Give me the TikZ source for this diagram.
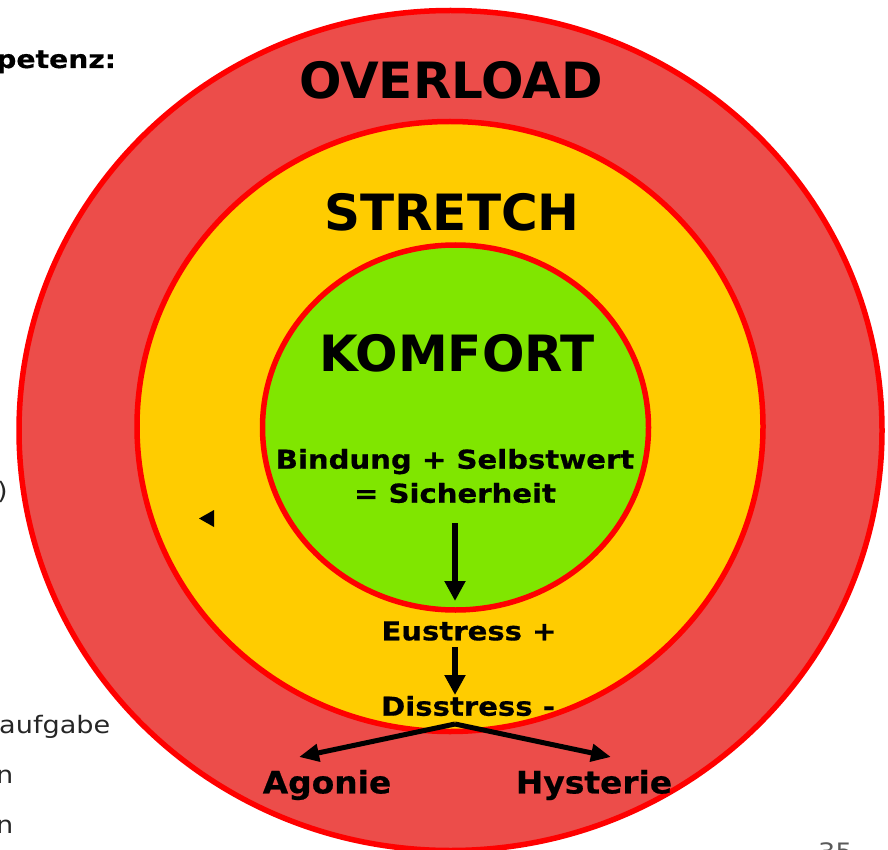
\documentclass[tikz,border=0pt]{standalone}
\usepackage{fontspec}
\setmainfont{DejaVu Sans}
\newfontfamily\widesans[FakeStretch=1.12,FakeBold=0.6]{DejaVu Sans}
\newfontfamily\outsans[FakeStretch=1.06,FakeBold=0.6]{DejaVu Sans}
\newfontfamily\sidesans[FakeStretch=1.13]{DejaVu Sans}
\newfontfamily\headsans[FakeStretch=1.13,FakeBold=0.5]{DejaVu Sans}
\usetikzlibrary{arrows.meta}

\definecolor{ringred}{RGB}{255,0,0}
\definecolor{overfill}{RGB}{236,77,74}
\definecolor{stretchfill}{RGB}{255,204,0}
\definecolor{comfortfill}{RGB}{128,230,0}
\definecolor{pagegray}{RGB}{90,90,90}

\tikzset{
  zone/.style={draw=ringred, line width=5.5pt},
  zonetitle/.style={font=\bfseries\fontsize{50}{60}\selectfont, inner sep=0pt},
  label/.style={font=\widesans\bfseries\fontsize{26}{34}\selectfont, inner sep=0pt, align=center},
  outcome/.style={font=\outsans\bfseries\fontsize{31}{36}\selectfont, inner sep=0pt},
  sidetext/.style={font=\sidesans\fontsize{24}{28}\selectfont, inner sep=0pt, text=black!85},
  flow/.style={line width=5.5pt, -{Triangle[width=20pt,length=20pt]}},
  branch/.style={line width=5pt, -{Triangle[width=17pt,length=20pt]}}
}

\begin{document}
\begin{tikzpicture}[x=1pt,y=-1pt]
\useasboundingbox (0,0) rectangle (888,850);
\clip (0,0) rectangle (888,850);

% concentric zones
\draw[zone, fill=overfill] (450.5,430.5) ellipse [x radius=431.5pt, y radius=420pt];
\draw[zone, fill=stretchfill] (450,426.5) ellipse [x radius=313pt, y radius=305pt];
\draw[zone, fill=comfortfill] (455.5,427.5) ellipse [x radius=193pt, y radius=182.5pt];

% zone titles
\node[zonetitle] (overload) at (451,80) {OVERLOAD};
\node[zonetitle] (stretch) at (452,212) {STRETCH};
\node[zonetitle] (komfort) at (457,353) {KOMFORT};

% inner statement and stress chain
\node[label] (security) at (455,476) {Bindung + Selbstwert\\= Sicherheit};
\node[label] (eustress) at (469,631) {Eustress +};
\node[label] (distress) at (468,706) {Disstress -};
\node[outcome] (agonie) at (327,785) {Agonie};
\node[outcome] (hysterie) at (594,785) {Hysterie};

\coordinate (secfoot) at (455,523);
\coordinate (sectip) at (455,601);
\coordinate (eufoot) at (455,647);
\coordinate (eutip) at (455,695);
\coordinate (fork) at (455,724);
\coordinate (agtip) at (299,757);
\coordinate (hytip) at (611,757);

\draw[flow] (secfoot) -- (sectip);
\draw[flow] (eufoot) -- (eutip);
\draw[branch] (fork) -- (agtip);
\draw[branch] (fork) -- (hytip);

% stray pointer mark
\fill (199,518.5) coordinate (pointer) -- (214,510) -- (214,527) -- cycle;

% text running in from the left column
\node[sidetext, font=\headsans\bfseries\fontsize{25}{28}\selectfont, text=black, anchor=base west] (heading) at (-4,68) {petenz:};
\node[sidetext, anchor=base west] (paren) at (-3,499) {)};
\node[sidetext, anchor=base west] (line1) at (-1,733) {aufgabe};
\node[sidetext, anchor=base west] (line2) at (-4,783) {n};
\node[sidetext, anchor=base west] (line3) at (-4,833) {n};

% page number
\node[sidetext, text=pagegray, anchor=base west] (pagenum) at (818,860) {35};
\end{tikzpicture}
\end{document}
